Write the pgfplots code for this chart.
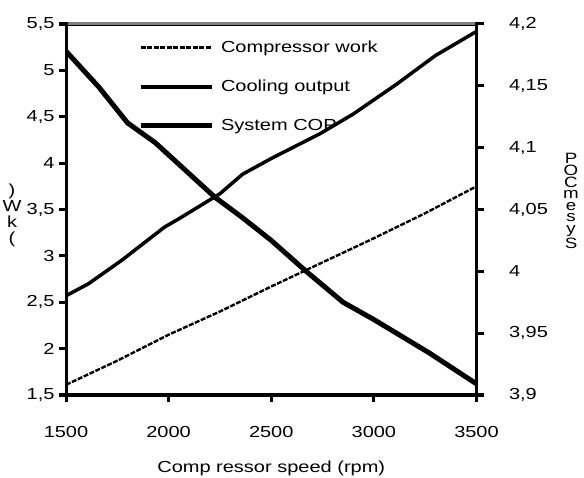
\documentclass[border=0pt]{standalone}
\usepackage{pgfplots}
\pgfplotsset{compat=1.18}
\usepackage{fontspec}
\setmainfont{Liberation Sans}[FakeStretch=1.25]
\begin{document}
\begin{tikzpicture}[font=\fontsize{16}{19}\selectfont]
\path[use as bounding box] (0pt,0pt) rectangle (584pt,477pt);
\begin{axis}[
  scale only axis, width=410.5pt, height=371pt,
  at={(66pt,82pt)}, anchor=south west,
  xmin=1500, xmax=3500, xtick={1500,2000,2500,3000,3500},
  xticklabels={1500,2000,2500,3000,3500},
  ymin=1.5, ymax=5.5, ytick={1.5,2,2.5,3,3.5,4,4.5,5,5.5},
  yticklabels={{1,5},2,{2,5},3,{3,5},4,{4,5},5,{5,5}},
  tick align=outside, major tick length=7pt,
  major tick style={black, line width=3pt},
  axis line style={black, line width=3pt},
  xtick pos=bottom, ytick pos=left,
  xticklabel style={font=\fontsize{16}{19}\selectfont, yshift=-21pt},
  yticklabel style={font=\fontsize{16}{19}\selectfont, xshift=-1pt},
  xlabel={Comp ressor speed (rpm)},
  xlabel style={yshift=-16pt},
]
\addplot[black, line width=2.4pt, dash pattern=on 5pt off 1.5pt] coordinates {
(1500,1.61)(1750,1.87)(2000,2.15)(2250,2.40)(2500,2.67)(2750,2.93)(3000,3.19)(3250,3.46)(3500,3.75)};
\addplot[black, line width=3.5pt] coordinates {
(1500,2.57)(1610,2.70)(1770,2.95)(1980,3.31)(2050,3.40)(2250,3.67)(2360,3.88)(2500,4.05)(2740,4.32)(2900,4.53)(3110,4.85)(3300,5.16)(3500,5.42)};
\end{axis}
\begin{axis}[
  scale only axis, width=410.5pt, height=371pt,
  at={(66pt,82pt)}, anchor=south west,
  xmin=1500, xmax=3500, xtick=\empty,
  ymin=3.9, ymax=4.2, ytick={3.9,3.95,4,4.05,4.1,4.15,4.2},
  yticklabels={{3,9},{3,95},4,{4,05},{4,1},{4,15},{4,2}},
  tick align=outside, major tick length=7pt,
  major tick style={black, line width=3pt},
  axis line style={black, line width=3pt},
  ytick pos=right,
  yticklabel style={font=\fontsize{16}{19}\selectfont, xshift=22pt},
  legend style={draw=none, fill=none, at={(0.175,0.955)}, anchor=north west,
    row sep=26pt, column sep=7pt, inner sep=0pt,
    nodes={inner sep=0pt, font=\fontsize{16}{19}\selectfont}},
  legend cell align=left,
  legend image code/.code={\draw[#1] (0pt,0pt) -- (71pt,0pt);},
]
\addlegendimage{black, line width=2.6pt, dash pattern=on 5pt off 1.5pt}
\addlegendentry{Compressor work}
\addlegendimage{black, line width=4pt}
\addlegendentry{Cooling output}
\addplot[black, line width=5pt] coordinates {
(1500,4.178)(1660,4.149)(1800,4.120)(1935,4.104)(2080,4.082)(2225,4.060)(2355,4.044)(2500,4.025)(2670,4.000)(2850,3.975)(3000,3.961)(3270,3.934)(3500,3.909)};
\addlegendentry{System COP}
\end{axis}
% axis frame and ticks (decoration)
\draw[black, line width=3pt] (66pt,454.5pt) -- (66pt,82pt) -- (476.5pt,82pt) -- (476.5pt,454.5pt);
\foreach \i in {0,...,4} \draw[black, line width=3pt] (66pt+\i*102.625pt,82pt) -- (66pt+\i*102.625pt,75pt);
\foreach \i in {0,...,8} \draw[black, line width=3pt] (66pt,82pt+\i*46.375pt) -- (59pt,82pt+\i*46.375pt);
\foreach \i in {0,...,6} \draw[black, line width=3pt] (476.5pt,82pt+\i*61.833pt) -- (483.5pt,82pt+\i*61.833pt);
\draw[gray, line width=3pt] (67.5pt,453pt) -- (475pt,453pt);
\node[align=center, font=\fontsize{15}{11.6}\selectfont] at (571pt,276pt) {P\\O\\C\\m\\e\\s\\y\\S};
\node[align=center, font=\fontsize{16}{16}\selectfont] at (12pt,262pt) {)\\W\\k\\(};
\end{tikzpicture}
\end{document}
